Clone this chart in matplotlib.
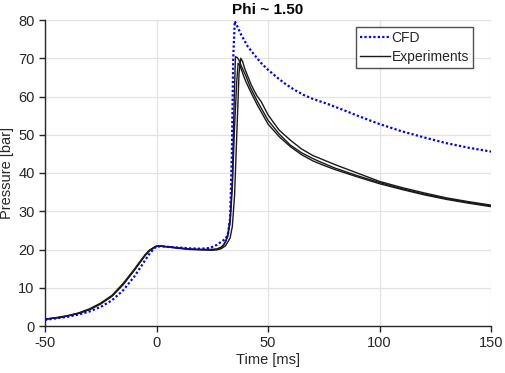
import matplotlib
matplotlib.use("Agg")
import matplotlib.pyplot as plt

plt.rcParams['font.family'] = ['Liberation Sans', 'DejaVu Sans']
plt.rcParams['axes.unicode_minus'] = False

title = "Phi ~ 1.50"
xlabel = "Time [ms]"
ylabel = "Pressure [bar]"
xticks = [-50, 0, 50, 100, 150]
yticks = [0, 10, 20, 30, 40, 50, 60, 70, 80]

t_cfd = [-50, -45, -40, -35, -30, -25, -20, -15, -10, -7, -5, -3, -1, 0, 2, 5, 10, 15, 20, 24, 27, 29, 31, 32, 33,
         33.8, 34.4, 35.1, 36.5, 38, 41, 44, 47, 50, 54, 58, 62, 66, 70, 77, 85, 90, 100, 110, 120, 130, 140, 150]
p_cfd = [1.6, 2.0, 2.4, 3.0, 3.8, 5.0, 6.7, 9.3, 12.9, 15.5, 17.3, 19.0, 20.3, 20.8, 20.8, 20.7, 20.5, 20.3, 20.2, 20.4, 21.2, 22.0, 22.8, 24.0, 28.0,
         45.0, 70.0, 79.7, 78.0, 76.1, 73.0, 70.8, 68.7, 67.0, 65.0, 63.2, 61.7, 60.4, 59.4, 58.0, 56.2, 55.0, 52.8, 50.9, 49.3, 47.8, 46.6, 45.6]

t_exp1 = [-50, -45, -40, -35, -30, -25, -20, -15, -10, -7, -5, -3, -1, 0, 2, 5, 10, 15, 20, 25, 27, 29, 30, 31, 32, 33, 34, 34.8,
          35.4, 36.2, 37, 38, 40, 42, 45, 50, 55, 60, 65, 70, 75, 80, 90, 100, 110, 120, 130, 140, 150]
p_exp1 = [1.8, 2.1, 2.6, 3.3, 4.3, 5.8, 7.8, 10.8, 14.6, 17.0, 18.6, 19.8, 20.6, 20.9, 20.9, 20.7, 20.4, 20.1, 20.0, 20.0, 20.1, 20.6, 21.2, 22.2, 24.0, 28.0, 38.0, 58.0,
          70.4, 70.2, 69.5, 68.0, 65.5, 62.5, 59.0, 53.8, 50.2, 47.3, 45.3, 43.8, 42.5, 41.3, 39.3, 37.5, 35.9, 34.5, 33.3, 32.3, 31.4]

t_exp2 = [-50, -45, -40, -35, -30, -25, -20, -15, -10, -7, -5, -3, -1, 0, 2, 5, 10, 15, 20, 25, 27, 29, 31, 33, 34, 35, 36, 37,
          37.8, 38.6, 39.5, 42.5, 45, 47, 50, 55, 60, 65, 70, 75, 80, 90, 100, 110, 120, 130, 140, 150]
p_exp2 = [1.8, 2.1, 2.6, 3.3, 4.3, 5.8, 7.8, 10.8, 14.5, 16.9, 18.5, 19.7, 20.5, 20.8, 20.9, 20.7, 20.3, 20.0, 19.9, 19.8, 19.9, 20.2, 21.0, 23.0, 26.0, 34.0, 50.0, 66.0,
          70.0, 69.2, 67.4, 63.0, 60.2, 58.6, 55.2, 51.2, 48.6, 46.3, 44.6, 43.4, 42.2, 40.0, 37.8, 36.2, 34.8, 33.5, 32.5, 31.6]

t_exp3 = [-50, -45, -40, -35, -30, -25, -20, -15, -10, -7, -5, -3, -1, 0, 2, 5, 10, 15, 20, 25, 27, 29, 30, 31, 32, 33, 34, 35, 36,
          36.6, 37.5, 39, 40, 42, 45, 50, 55, 60, 65, 70, 75, 80, 90, 100, 110, 120, 130, 140, 150]
p_exp3 = [1.8, 2.2, 2.7, 3.4, 4.5, 6.0, 8.0, 11.1, 14.8, 17.2, 18.7, 19.9, 20.6, 20.9, 20.9, 20.7, 20.4, 20.1, 20.0, 20.0, 20.1, 20.5, 21.0, 22.0, 23.5, 27.0, 36.0, 52.0, 64.0,
          68.7, 68.0, 65.5, 64.0, 61.5, 58.0, 52.8, 49.5, 46.9, 44.8, 43.2, 42.0, 40.9, 39.0, 37.2, 35.7, 34.3, 33.1, 32.1, 31.2]

fig = plt.figure(figsize=(5.05, 3.73), dpi=100)
ax = fig.add_axes([45/505, 47/373, 446/505, 306/373])

dark = '#262626'
ax.plot(t_cfd, p_cfd, linestyle=(0, (1, 1)), color='#0000ff', lw=1.6, label='CFD', zorder=3)
ax.plot(t_exp1, p_exp1, color='#1a1a1a', lw=1.0, label='Experiments', zorder=2)
ax.plot(t_exp2, p_exp2, color='#1a1a1a', lw=1.0, zorder=2)
ax.plot(t_exp3, p_exp3, color='#1a1a1a', lw=1.0, zorder=2)

ax.set_xlim(-50, 150)
ax.set_ylim(0, 80)
ax.set_xticks(xticks)
ax.set_yticks(yticks)
ax.grid(True, color='#e3e3e3', lw=0.9)
ax.set_axisbelow(True)
for s in ['top', 'right']:
    ax.spines[s].set_visible(False)
for s in ['left', 'bottom']:
    ax.spines[s].set_color(dark)
    ax.spines[s].set_linewidth(1.0)
ax.tick_params(direction='out', length=4, width=1.0, colors=dark, labelsize=10.5, labelcolor=dark)

ax.set_title(title, fontsize=11, fontweight='bold', color='black', pad=4)
ax.set_xlabel(xlabel, fontsize=10.5, color=dark, labelpad=2)
ax.set_ylabel(ylabel, fontsize=10.5, color=dark, labelpad=3)

leg = ax.legend(loc='upper right', bbox_to_anchor=(0.96, 0.977), fontsize=10, frameon=True, fancybox=False,
                handlelength=2.1, handletextpad=0.15, borderpad=0.3, labelspacing=0.35, borderaxespad=0.0)
leg.get_frame().set_edgecolor(dark)
leg.get_frame().set_linewidth(1.0)
for txt in leg.get_texts():
    txt.set_color(dark)

fig.savefig('out.png', dpi=100)
